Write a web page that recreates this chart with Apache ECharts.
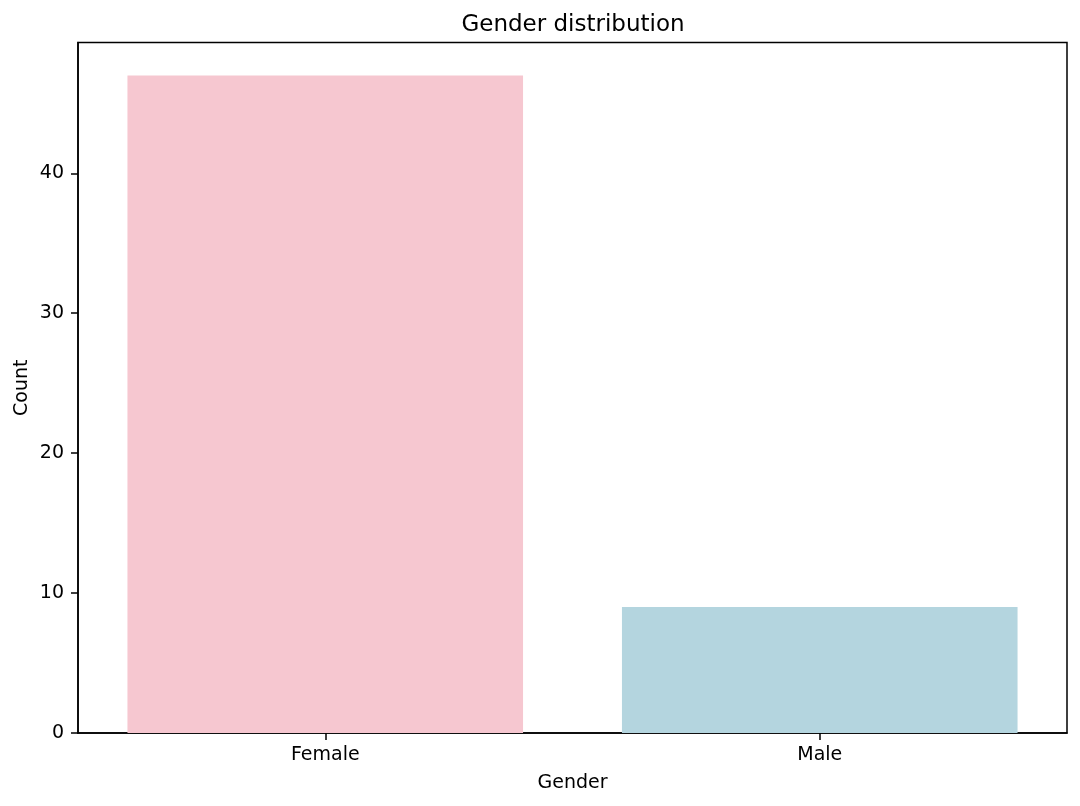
<!DOCTYPE html>
<html>
<head>
<meta charset="utf-8">
<script src="https://cdn.jsdelivr.net/npm/echarts@6/dist/echarts.min.js"></script>
<style>
	html, body { margin: 0; padding: 0; background: #fff; }
	#main { width: 1080px; height: 806px; }
</style>
</head>
<body>
<div id="main"></div>
<script>
// data
var categories = ['Female', 'Male'];
var counts = [47, 9];
var barColors = ['#f6c7d0', '#b4d5df'];
var yTicks = [0, 10, 20, 30, 40];
var yMax = 49.35;

var font = 'DejaVu Sans';
var myChart = echarts.init(document.getElementById('main'));
var option = {
	backgroundColor: '#fff',
	animation: false,
	title: {
		text: 'Gender distribution',
		left: 568,
		top: 9,
		textAlign: 'center',
		textStyle: { fontFamily: font, fontSize: 23, fontWeight: 'normal', color: '#000' }
	},
	grid: {
		left: 78,
		right: 13,
		top: 42.5,
		bottom: 73,
		show: true,
		borderColor: '#000',
		borderWidth: 1.5,
		backgroundColor: 'transparent'
	},
	xAxis: {
		type: 'category',
		data: categories,
		name: 'Gender',
		nameLocation: 'middle',
		nameGap: 41,
		nameMoveOverlap: false,
		nameTextStyle: { fontFamily: font, fontSize: 19, color: '#000' },
		axisLine: { show: true, lineStyle: { color: '#000', width: 1.5 } },
		axisTick: { show: true, interval: 0, alignWithLabel: true, length: 7, lineStyle: { color: '#000', width: 1.5 } },
		axisLabel: { fontFamily: font, fontSize: 19, color: '#000', margin: 13 },
		splitLine: { show: false }
	},
	yAxis: {
		type: 'value',
		min: 0,
		max: yMax,
		name: 'Count',
		nameLocation: 'middle',
		nameGap: 46,
		nameMoveOverlap: false,
		nameTextStyle: { fontFamily: font, fontSize: 19, color: '#000' },
		axisLine: { show: true, lineStyle: { color: '#000', width: 1.5 } },
		axisTick: { show: true, length: 7, customValues: yTicks, lineStyle: { color: '#000', width: 1.5 } },
		axisLabel: { fontFamily: font, fontSize: 19, color: '#000', margin: 14, customValues: yTicks },
		splitLine: { show: false }
	},
	series: [{
		type: 'bar',
		barWidth: '80%',
		data: counts.map(function(v, i) {
			return { value: v, itemStyle: { color: barColors[i] } };
		})
	}]
};
myChart.setOption(option);
</script>
</body>
</html>
